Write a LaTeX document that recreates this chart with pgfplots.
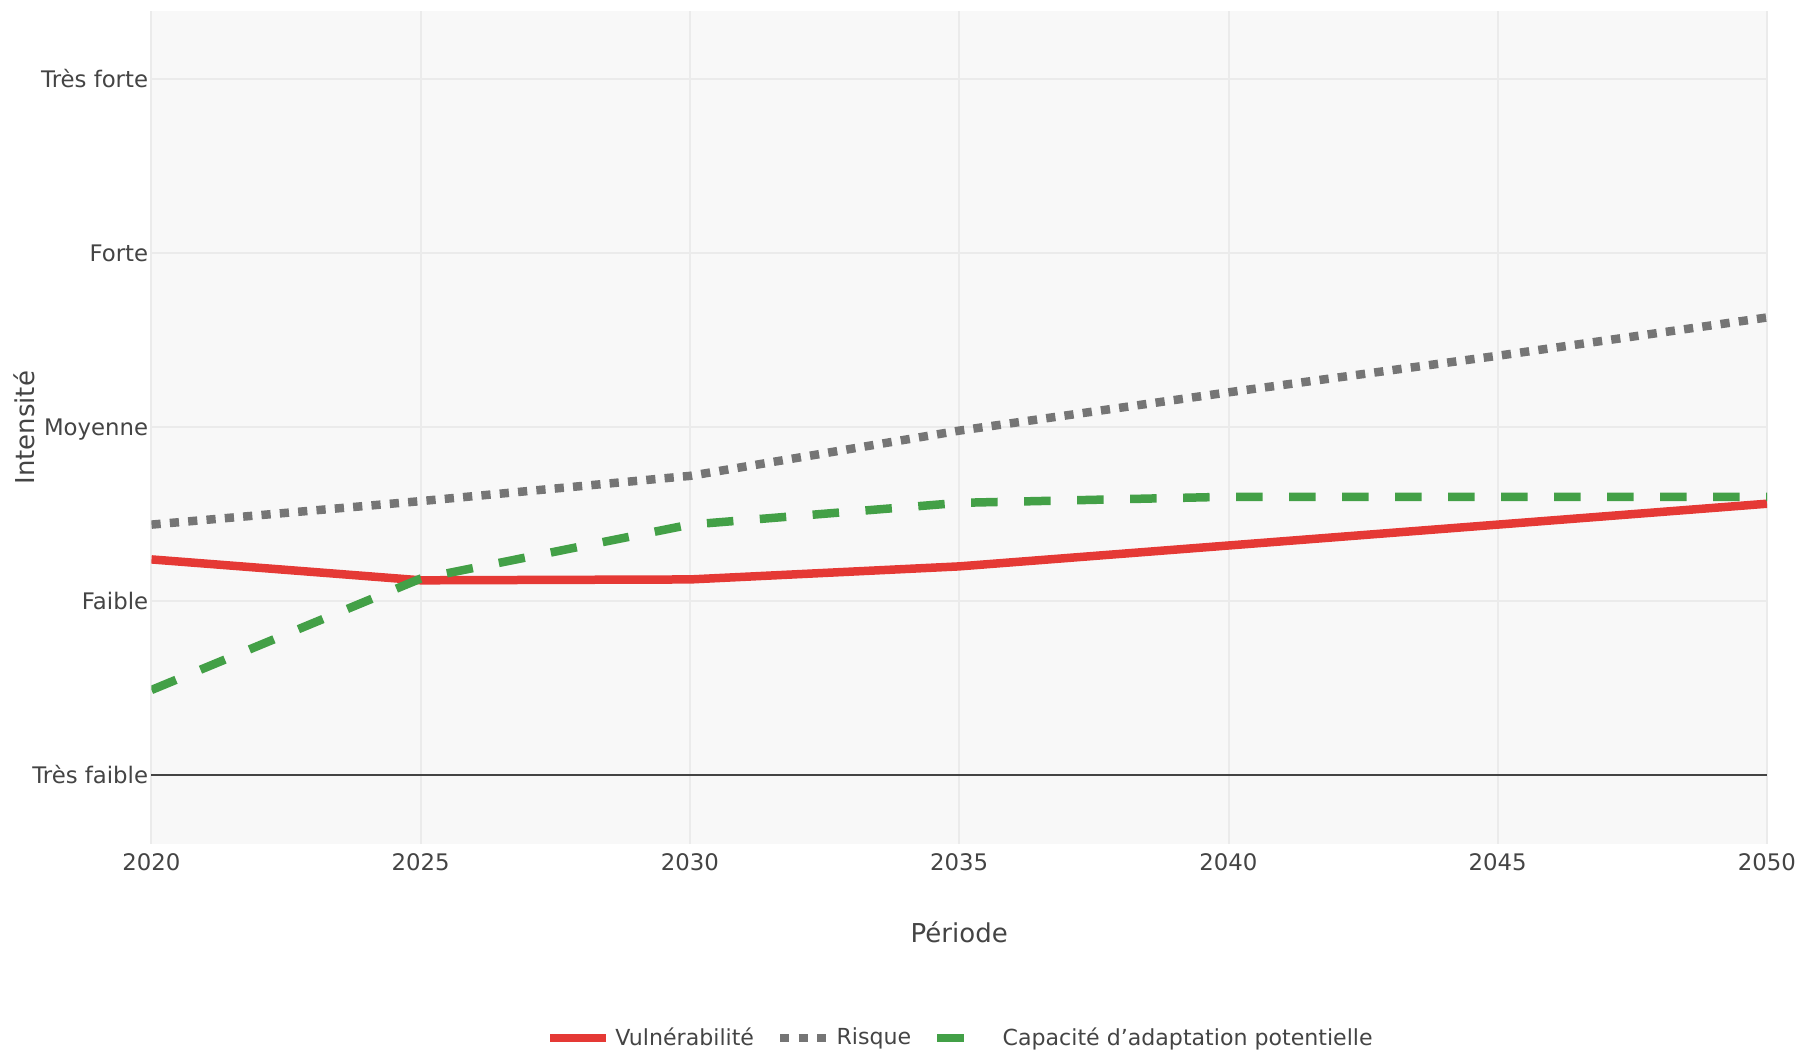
\documentclass[border=0pt]{standalone}
\usepackage{fontspec}
\setmainfont{DejaVu Sans}
\usepackage{pgfplots}
\pgfplotsset{compat=1.18}
\definecolor{redc}{HTML}{E53935}
\definecolor{greyc}{HTML}{757575}
\definecolor{greenc}{HTML}{43A047}
\definecolor{bgc}{HTML}{F8F8F8}
\definecolor{gridc}{HTML}{EBEBEB}
\definecolor{zeroc}{HTML}{444444}
\definecolor{textc}{HTML}{444444}
\pgfplotsset{
  dotleg/.style={legend image code/.code={\draw[##1] (0pt,0pt) -- (23.5pt,0pt);}},
  dashleg/.style={legend image code/.code={\draw[##1] (0pt,0pt) -- (13.25pt,0pt); \path (28pt,0pt);}},
}
\begin{document}
\begin{tikzpicture}
\useasboundingbox (-75.75pt,-103.5pt) rectangle (824.25pt,422pt);
\begin{axis}[
  at={(0pt,0pt)}, anchor=south west,
  scale only axis,
  width=807.75pt, height=416.25pt,
  xmin=2020, xmax=2050,
  ymin=-0.395, ymax=4.388,
  axis background/.style={fill=bgc},
  axis line style={draw=none},
  major tick length=0pt,
  tick style={draw=none},
  xtick={2020,2025,2030,2035,2040,2045,2050},
  xticklabels={2020,2025,2030,2035,2040,2045,2050},
  ytick={1,2,3,4},
  yticklabels={Faible,Moyenne,Forte,Très forte},
  extra y ticks={0},
  extra y tick labels={Très faible},
  extra y tick style={grid style={color=zeroc, line width=0.8pt}},
  grid=major,
  grid style={color=gridc, line width=1pt},
  ticklabel style={font=\fontsize{11.4}{13.7}\selectfont, text=textc},
  xticklabel style={inner sep=0pt, anchor=north, yshift=-4.35pt},
  yticklabel style={inner sep=0pt, anchor=base east, xshift=-1.5pt, yshift=-4.15pt},
  xlabel={Période},
  ylabel={Intensité},
  every axis x label/.style={at={(axis description cs:0.5,0)}, anchor=center, yshift=-44pt, font=\fontsize{13}{15.6}\selectfont, text=textc},
  every axis y label/.style={at={(axis description cs:-0.0789,0.5)}, anchor=center, rotate=90, font=\fontsize{13}{15.6}\selectfont, text=textc},
  legend columns=-1,
  legend style={at={(0.5,-0.2330)}, anchor=center, draw=none, fill=none,
    font=\fontsize{11.05}{13.3}\selectfont, text=textc,
    nodes={inner sep=0pt},
    /tikz/every odd column/.append style={column sep=2.5pt},
    /tikz/every even column/.append style={column sep=11pt}},
  legend image code/.code={\draw[#1] (0pt,0pt) -- (28pt,0pt);},
  every axis plot/.append style={line join=round, line cap=butt},
]
\addplot[color=redc, line width=4.25pt] coordinates {
  (2020,1.24) (2025,1.12) (2030,1.125) (2035,1.20) (2040,1.32) (2045,1.44) (2050,1.56)};
\addlegendentry{Vulnérabilité}
\addplot[color=greyc, line width=4.25pt, dash pattern=on 4.6pt off 4.6pt, dotleg] coordinates {
  (2020,1.44) (2025,1.575) (2030,1.72) (2035,1.98) (2040,2.20) (2045,2.41) (2050,2.63)};
\addlegendentry{Risque}
\addplot[color=greenc, line width=4.25pt, dash pattern=on 13.25pt off 13.25pt, dashleg] coordinates {
  (2020,0.49) (2025,1.13) (2030,1.44) (2035,1.565) (2040,1.60) (2045,1.60) (2050,1.60)};
\addlegendentry{Capacité d’adaptation potentielle}
\end{axis}
\end{tikzpicture}
\end{document}
